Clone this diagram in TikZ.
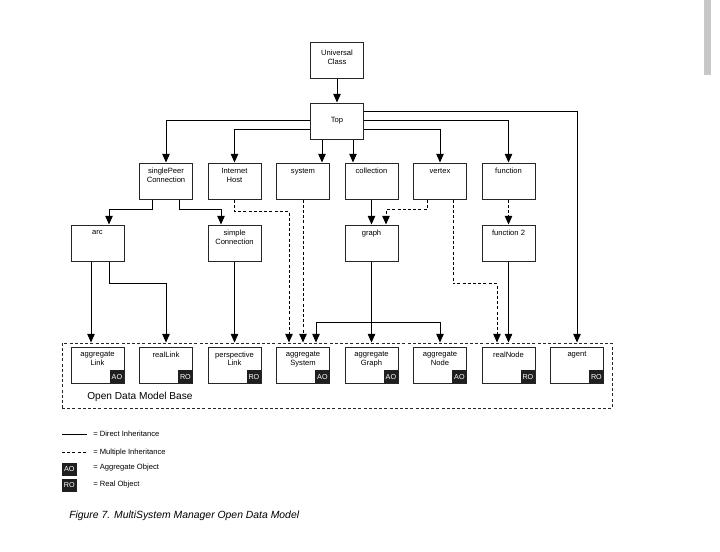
\documentclass[tikz,border=0pt]{standalone}
\usepackage{fontspec}
\setmainfont{Liberation Sans}
\usetikzlibrary{arrows.meta}

\begin{document}
\begin{tikzpicture}[x=0.75pt,y=0.75pt,yscale=-1,xscale=1,
  cls/.style={draw=black!85, line width=0.75pt, minimum width=39.75pt, minimum height=27pt, inner sep=0pt},
  txt/.style={anchor=north, align=center, inner xsep=1pt, inner ysep=4.2pt, font=\fontsize{5.7}{6.4}\selectfont},
  badge/.style={fill=black!88, text=white, minimum width=11pt, minimum height=10pt, inner sep=0pt, font=\fontsize{5.4}{6}\selectfont},
  lgd/.style={anchor=west, inner sep=0.75pt, font=\fontsize{5.7}{6.4}\selectfont},
  inh/.style={line width=0.7pt, -{Triangle[length=6.5pt,width=5.6pt]}},
  multi/.style={inh, dash pattern=on 2.3pt off 1.6pt},
]
\useasboundingbox (0,0) rectangle (720,551);

%Scroll bar
\fill[black!22] (704,0) rectangle (711,75);

% Classes
\node[cls, label={[txt, inner ysep=6.5pt]north:{Universal\\Class}}] (ucls) at (337,60) {};
\node[cls, font=\fontsize{5.7}{6.4}\selectfont] (top) at (337,121) {Top};

\node[cls, label={[txt]north:{singlePeer\\Connection}}] (spc) at (166,181) {};
\node[cls, label={[txt]north:{Internet\\Host}}] (ihost) at (234.5,181) {};
\node[cls, label={[txt]north:{system}}] (sys) at (303,181) {};
\node[cls, label={[txt]north:{collection}}] (coll) at (371.5,181) {};
\node[cls, label={[txt]north:{vertex}}] (vert) at (440,181) {};
\node[cls, label={[txt]north:{function}}] (func) at (508.5,181) {};

\node[cls, label={[txt]north:{arc}}] (arc) at (97.5,243) {};
\node[cls, label={[txt]north:{simple\\Connection}}] (sconn) at (234.5,243) {};
\node[cls, label={[txt]north:{graph}}] (graph) at (371.5,243) {};
\node[cls, label={[txt]north:{function 2}}] (func2) at (508.5,243) {};

% Open Data Model Base
\node[draw=black!85, line width=0.7pt, dash pattern=on 2.3pt off 1.6pt, minimum width=412.5pt, minimum height=48.75pt, inner sep=0pt] (odmb) at (337,375.5) {};
\node[anchor=west, inner sep=0.75pt, font=\fontsize{7.6}{9}\selectfont] (odmbl) at (86,397) {Open Data Model Base};

\node[cls, label={[txt, inner ysep=3.6pt]north:{aggregate\\Link}}, label={[badge, anchor=south east]south east:AO}] (alink) at (97.5,365) {};
\node[cls, label={[txt, inner ysep=3.6pt]north:{realLink}}, label={[badge, anchor=south east]south east:RO}] (rlink) at (166,365) {};
\node[cls, label={[txt, inner ysep=3.6pt]north:{perspective\\Link}}, label={[badge, anchor=south east]south east:RO}] (plink) at (234.5,365) {};
\node[cls, label={[txt, inner ysep=3.6pt]north:{aggregate\\System}}, label={[badge, anchor=south east]south east:AO}] (asys) at (303,365) {};
\node[cls, label={[txt, inner ysep=3.6pt]north:{aggregate\\Graph}}, label={[badge, anchor=south east]south east:AO}] (agraph) at (371.5,365) {};
\node[cls, label={[txt, inner ysep=3.6pt]north:{aggregate\\Node}}, label={[badge, anchor=south east]south east:AO}] (anode) at (440,365) {};
\node[cls, label={[txt, inner ysep=3.6pt]north:{realNode}}, label={[badge, anchor=south east]south east:RO}] (rnode) at (508.5,365) {};
\node[cls, label={[txt, inner ysep=3.6pt]north:{agent}}, label={[badge, anchor=south east]south east:RO}] (agent) at (577,365) {};

% Direct inheritance
\draw[inh] (ucls.south) -- (top.north);
\draw[inh] (top.west |- 0,120) -| (spc.north);
\draw[inh] (top.west |- 0,129) -| (ihost.north);
\draw[inh] (top.south -| 322,0) -- (sys.north -| 322,0);
\draw[inh] (top.south -| 353,0) -- (coll.north -| 353,0);
\draw[inh] (top.east |- 0,129) -| (vert.north);
\draw[inh] (top.east |- 0,120) -| (func.north);
\draw[inh] (top.east |- 0,111) -| (odmb.north -| agent);

\draw[inh] (spc.south -| 152,0) -- ++(0,10) -| (arc.north -| 109,0);
\draw[inh] (spc.south -| 179,0) -- ++(0,10) -| (sconn.north -| 221,0);
\draw[inh] (coll.south) -- (graph.north);

\draw[inh] (arc.south -| 91,0) -- (odmb.north -| 91,0);
\draw[inh] (arc.south -| 109,0) -- ++(0,22) -| (odmb.north -| rlink);
\draw[inh] (sconn.south) -- (odmb.north -| plink);
\draw[inh] (graph.south) -- (odmb.north -| agraph);
\coordinate (gsplit) at (graph.south |- 0,322);
\draw[inh] (gsplit) -| (odmb.north -| 316,0);
\draw[inh] (gsplit) -| (odmb.north -| anode);
\draw[inh] (func2.south) -- (odmb.north -| rnode);

% Multiple inheritance
\draw[multi] (ihost.south) -- ++(0,12) -| (odmb.north -| 289,0);
\draw[multi] (sys.south) -- (odmb.north -| asys);
\draw[multi] (vert.south -| 427,0) -- ++(0,10) -| (graph.north -| 386,0);
\draw[multi] (vert.south -| 453,0) -- ++(0,84) -| (odmb.north -| 497,0);
\draw[multi] (func.south) -- (func2.north);

% Legend
\draw[line width=0.7pt] (62,434) -- (87,434);
\node[lgd] (lgd1) at (92,434) {= Direct Inheritance};
\draw[line width=0.7pt, dash pattern=on 2.3pt off 1.6pt] (62,452.7) -- (87,452.7);
\node[lgd] (lgd2) at (92,452.7) {= Multiple Inheritance};
\node[badge] (lgdao) at (69.3,469.5) {AO};
\node[lgd] (lgd3) at (92,468) {= Aggregate Object};
\node[badge] (lgdro) at (69.3,485.5) {RO};
\node[lgd] (lgd4) at (92,485) {= Real Object};

% Caption
\node[anchor=west, inner sep=0.75pt, font=\fontsize{7.8}{9}\selectfont\itshape] (cap) at (68,516) {Figure 7. MultiSystem Manager Open Data Model};

\end{tikzpicture}
\end{document}
